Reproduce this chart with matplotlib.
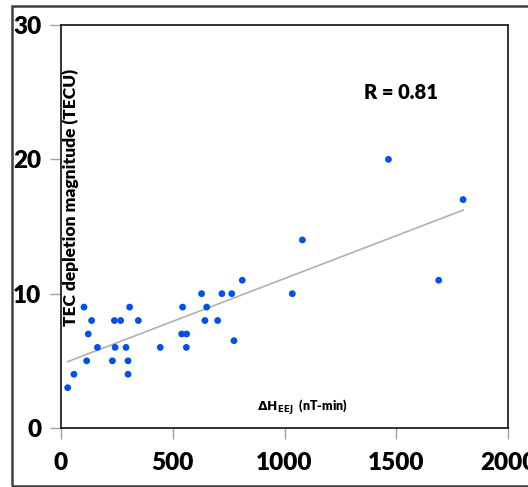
import matplotlib
matplotlib.use("Agg")
import matplotlib.pyplot as plt
import numpy as np
from matplotlib.patches import Rectangle

# values
dh_eej = [30, 58, 103, 115, 122, 137, 163, 230, 239, 242, 267, 291, 300, 300,
          307, 346, 444, 540, 544, 562, 561, 629, 644, 652, 701, 720, 764, 774,
          811, 1035, 1080, 1465, 1690, 1799]
tec_depl = [3, 4, 9, 5, 7, 8, 6, 5, 8, 6, 8, 6, 5, 4,
            9, 8, 6, 7, 9, 7, 6, 10, 8, 9, 8, 10, 10, 6.5,
            11, 10, 14, 20, 11, 17]
x_ticks = [0, 500, 1000, 1500, 2000]
y_ticks = [0, 10, 20, 30]

plt.rcParams['font.family'] = ['Lato', 'DejaVu Sans']
plt.rcParams['mathtext.fontset'] = 'dejavusans'

fig = plt.figure(figsize=(5.28, 4.87), dpi=100)
ax = fig.add_axes([61/528, 1 - 428/487, (508 - 61)/528, (428 - 25)/487])

# outer frame of the figure
fig.patches.append(Rectangle((12/528, 1 - 486/487), 1.0, (486 - 6)/487,
                             transform=fig.transFigure, fill=False,
                             edgecolor='#404040', linewidth=1.8, clip_on=False))

ax.scatter(dh_eej, tec_depl, s=24, color='#0050EE', edgecolors='none', zorder=3)

# linear fit
x = np.array(dh_eej, dtype=float)
y = np.array(tec_depl, dtype=float)
k, b = np.polyfit(x, y, 1)
xx = np.array([x.min(), x.max()])
ax.plot(xx, k*xx + b, color='#b0b0b0', linewidth=1.2, zorder=2)

ax.set_xlim(0, 2000)
ax.set_ylim(0, 30)
ax.set_xticks(x_ticks)
ax.set_yticks(y_ticks)
ax.tick_params(length=8, width=1, color='#a0a0a0', labelsize=17.5, pad=6)
ax.tick_params(axis='x', pad=9)
for lab in ax.get_xticklabels() + ax.get_yticklabels():
    lab.set_fontweight('heavy')
for sp in ax.spines.values():
    sp.set_color('#222222')
    sp.set_linewidth(1.3)

ax.text(0.76, 0.832, 'R = 0.81', transform=ax.transAxes, fontsize=14.5,
        fontweight='heavy', ha='center', va='center')
ax.text(0.022, 0.573, 'TEC depletion magnitude (TECU)', transform=ax.transAxes,
        rotation=90, fontsize=12.5, fontweight='heavy', ha='center', va='center')
ax.text(0.539, 0.052, r'$\mathbf{\Delta H_{EEJ}}$  (nT-min)', transform=ax.transAxes,
        fontsize=9, fontweight='heavy', ha='center', va='center')

fig.savefig('out.png', dpi=100)
